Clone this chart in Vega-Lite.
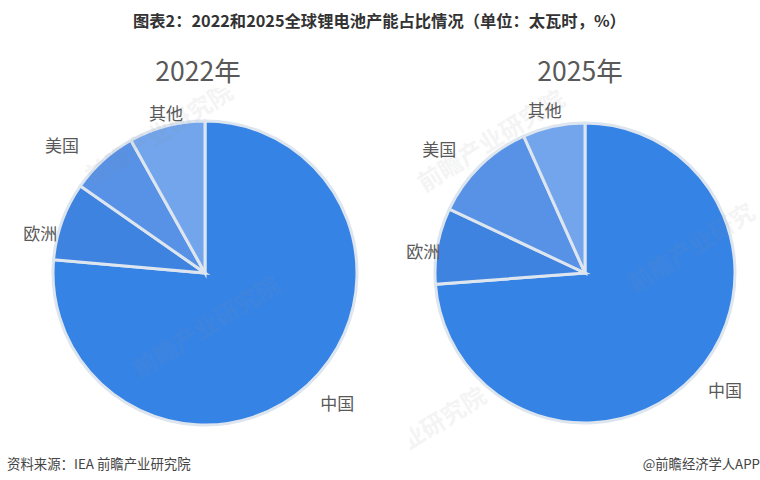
{
  "$schema": "https://vega.github.io/schema/vega-lite/v6.json",
  "background": "white",
  "padding": {"left": 7, "right": 0, "top": 14, "bottom": 0},
  "title": {
    "text": "图表2：2022和2025全球锂电池产能占比情况（单位：太瓦时，%）",
    "font": "Noto Sans CJK SC",
    "fontSize": 16.3,
    "fontWeight": "bold",
    "color": "#333333",
    "anchor": "start",
    "dx": 126,
    "offset": 29
  },
  "datasets": {
    "y2022": [
      {"region": "中国", "share": 76.4, "rank": 1},
      {"region": "欧洲", "share": 8.3, "rank": 2},
      {"region": "美国", "share": 7.2, "rank": 3},
      {"region": "其他", "share": 8.1, "rank": 4}
    ],
    "y2025": [
      {"region": "中国", "share": 73.8, "rank": 1},
      {"region": "欧洲", "share": 8.2, "rank": 2},
      {"region": "美国", "share": 11.3, "rank": 3},
      {"region": "其他", "share": 6.7, "rank": 4}
    ],
    "marks2022": [
      {"slot": 1, "wm": "前瞻产业研究院"},
      {"slot": 2, "wm": "前瞻产业研究院"}
    ],
    "marks2025": [
      {"slot": 1, "wm": "前瞻产业研究院"},
      {"slot": 2, "wm": "前瞻产业研究"},
      {"slot": 3, "wm": "业研究院"}
    ],
    "notes": [
      {"side": "left", "note": "资料来源：IEA  前瞻产业研究院"},
      {"side": "right", "note": "@前瞻经济学人APP"}
    ]
  },
  "config": {
    "view": {"stroke": null},
    "text": {"font": "Noto Sans CJK SC"}
  },
  "spacing": -7,
  "vconcat": [
    {
      "spacing": 3,
      "hconcat": [
        {
          "width": 396,
          "height": 370,
          "title": {"text": "2022年", "fontSize": 26.5, "fontWeight": "normal", "color": "#595959", "font": "Noto Sans CJK SC", "offset": 2, "dx": -7},
          "data": {"name": "y2022"},
          "layer": [
            {
              "mark": {"type": "arc", "radius": 152, "stroke": "#dde5ef", "strokeWidth": 3},
              "encoding": {
                "theta": {"field": "share", "type": "quantitative", "stack": true},
                "order": {"field": "rank", "type": "ordinal"},
                "color": {
                  "field": "region",
                  "type": "nominal",
                  "scale": {"domain": ["中国", "欧洲", "美国", "其他"], "range": ["#3683e6", "#3f83e0", "#5792e6", "#72a5ec"]},
                  "legend": null
                }
              }
            },
            {
              "data": {"name": "marks2022"},
              "mark": {"type": "text", "fontSize": 24, "fontWeight": "bold", "angle": 328, "color": "#8a9099", "opacity": 0.09, "clip": true},
              "encoding": {
                "x": {"field": "slot", "type": "quantitative", "scale": {"domain": [1, 2], "range": [153, 200]}, "axis": null},
                "y": {"field": "slot", "type": "quantitative", "scale": {"domain": [1, 2], "range": [47, 240]}, "axis": null},
                "text": {"field": "wm"}
              }
            },
            {
              "mark": {"type": "text", "fontSize": 17, "color": "#595959"},
              "encoding": {
                "theta": {"field": "rank", "type": "quantitative", "stack": null, "scale": {"domain": [1, 2, 3, 4], "range": [2.356, 4.939, 5.435, 6.041]}},
                "radius": {"field": "rank", "type": "quantitative", "scale": {"domain": [1, 2, 3, 4], "range": [187, 169, 190.6, 163]}},
                "text": {"field": "region"}
              }
            }
          ],
          "resolve": {"scale": {"theta": "independent", "radius": "independent"}}
        },
        {
          "width": 350,
          "height": 370,
          "title": {"text": "2025年", "fontSize": 26.5, "fontWeight": "normal", "color": "#595959", "font": "Noto Sans CJK SC", "offset": 2, "dx": -5},
          "data": {"name": "y2025"},
          "layer": [
            {
              "mark": {"type": "arc", "radius": 150, "stroke": "#dde5ef", "strokeWidth": 3},
              "encoding": {
                "theta": {"field": "share", "type": "quantitative", "stack": true},
                "order": {"field": "rank", "type": "ordinal"},
                "color": {
                  "field": "region",
                  "type": "nominal",
                  "scale": {"domain": ["中国", "欧洲", "美国", "其他"], "range": ["#3683e6", "#3f83e0", "#5792e6", "#72a5ec"]},
                  "legend": null
                }
              }
            },
            {
              "data": {"name": "marks2025"},
              "mark": {"type": "text", "fontSize": 24, "fontWeight": "bold", "angle": 328, "color": "#8a9099", "opacity": 0.09, "clip": true},
              "encoding": {
                "x": {"field": "slot", "type": "quantitative", "scale": {"domain": [1, 2, 3], "range": [82, 282, 34]}, "axis": null},
                "y": {"field": "slot", "type": "quantitative", "scale": {"domain": [1, 2, 3], "range": [54, 161, 332]}, "axis": null},
                "text": {"field": "wm"}
              }
            },
            {
              "mark": {"type": "text", "fontSize": 17, "color": "#595959"},
              "encoding": {
                "theta": {"field": "rank", "type": "quantitative", "stack": null, "scale": {"domain": [1, 2, 3, 4], "range": [2.276, 4.835, 5.409, 6.039]}},
                "radius": {"field": "rank", "type": "quantitative", "scale": {"domain": [1, 2, 3, 4], "range": [184, 163, 190, 166]}},
                "text": {"field": "region"}
              }
            }
          ],
          "resolve": {"scale": {"theta": "independent", "radius": "independent"}}
        }
      ]
    },
    {
      "width": 753,
      "height": 14,
      "data": {"name": "notes"},
      "encoding": {
        "x": {"field": "side", "type": "nominal", "scale": {"type": "point", "domain": ["left", "right"], "range": [0, 753], "padding": 0}, "axis": null},
        "text": {"field": "note"}
      },
      "layer": [
        {
          "transform": [{"filter": "datum.side === 'left'"}],
          "mark": {"type": "text", "align": "left", "fontSize": 13.4, "color": "#444444"}
        },
        {
          "transform": [{"filter": "datum.side === 'right'"}],
          "mark": {"type": "text", "align": "right", "fontSize": 13.3, "color": "#444444"}
        }
      ]
    }
  ]
}
